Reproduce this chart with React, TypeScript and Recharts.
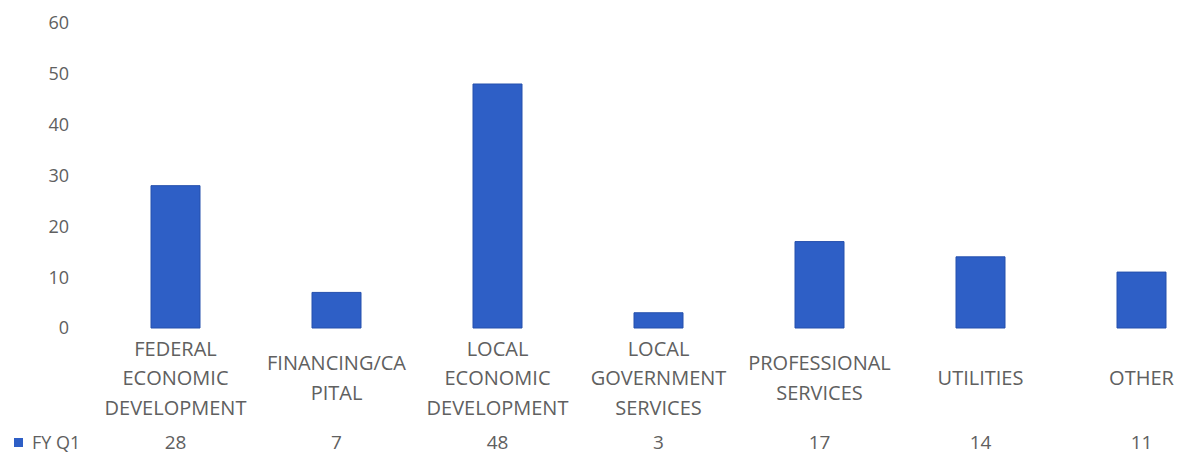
import React from 'react'
import { BarChart, Bar, XAxis, YAxis } from 'recharts'

const categories = [
  'FEDERAL ECONOMIC DEVELOPMENT',
  'FINANCING/CAPITAL',
  'LOCAL ECONOMIC DEVELOPMENT',
  'LOCAL GOVERNMENT SERVICES',
  'PROFESSIONAL SERVICES',
  'UTILITIES',
  'OTHER',
]

// how the category labels wrap under each bar
const labelLines = [
  ['FEDERAL', 'ECONOMIC', 'DEVELOPMENT'],
  ['FINANCING/CA', 'PITAL'],
  ['LOCAL', 'ECONOMIC', 'DEVELOPMENT'],
  ['LOCAL', 'GOVERNMENT', 'SERVICES'],
  ['PROFESSIONAL', 'SERVICES'],
  ['UTILITIES'],
  ['OTHER'],
]

const seriesName = 'FY Q1'
const fyQ1 = [28, 7, 48, 3, 17, 14, 11]
const yTicks = [0, 10, 20, 30, 40, 50, 60]

const data = categories.map((name, i) => ({ name, value: fyQ1[i] }))

const TEXT = '#606060'
const FONT = '"Open Sans", sans-serif'
const BLUE = '#2e5fc6'

function CategoryTick(props: any) {
  const { x, y, payload } = props
  const i = payload.index
  const lines = labelLines[i] || [payload.value]
  const step = 29.5
  const center = y + 50
  const start = center - ((lines.length - 1) * step) / 2
  return (
    <g>
      {lines.map((line, k) => (
        <text
          key={k}
          x={x}
          y={start + k * step}
          dy="0.35em"
          textAnchor="middle"
          fill={TEXT}
          fontSize={20}
          fontFamily={FONT}
        >
          {line}
        </text>
      ))}
      <text
        x={x}
        y={y + 114}
        dy="0.35em"
        textAnchor="middle"
        fill={TEXT}
        fontSize={19}
        fontFamily={FONT}
      >
        {fyQ1[i]}
      </text>
    </g>
  )
}

export default function App() {
  return (
    <div
      style={{
        position: 'absolute',
        left: 0,
        top: 0,
        width: 1178,
        height: 455,
        overflow: 'hidden',
        background: '#fff',
      }}
    >
      <BarChart
        width={1222}
        height={455}
        data={data}
        margin={{ top: 23, right: 0, bottom: 0, left: 0 }}
        barCategoryGap={0}
      >
        <YAxis
          domain={[0, 60]}
          ticks={yTicks}
          width={95}
          axisLine={false}
          tickLine={false}
          tickSize={0}
          tickMargin={26}
          tick={{ fill: TEXT, fontSize: 18, fontFamily: FONT }}
        />
        <XAxis
          dataKey="name"
          height={127}
          axisLine={false}
          tickLine={false}
          tickSize={0}
          tickMargin={0}
          interval={0}
          tick={<CategoryTick />}
        />
        <Bar
          dataKey="value"
          name={seriesName}
          fill={BLUE}
          stroke="#2550ad"
          strokeWidth={1}
          barSize={49}
          isAnimationActive={false}
        />
      </BarChart>
      <div
        style={{
          position: 'absolute',
          left: 14,
          top: 430,
          display: 'flex',
          alignItems: 'center',
          fontFamily: FONT,
          fontSize: 18,
          color: TEXT,
        }}
      >
        <span
          style={{
            display: 'inline-block',
            width: 9,
            height: 9,
            background: BLUE,
            marginRight: 9,
          }}
        />
        <span>{seriesName}</span>
      </div>
    </div>
  )
}
